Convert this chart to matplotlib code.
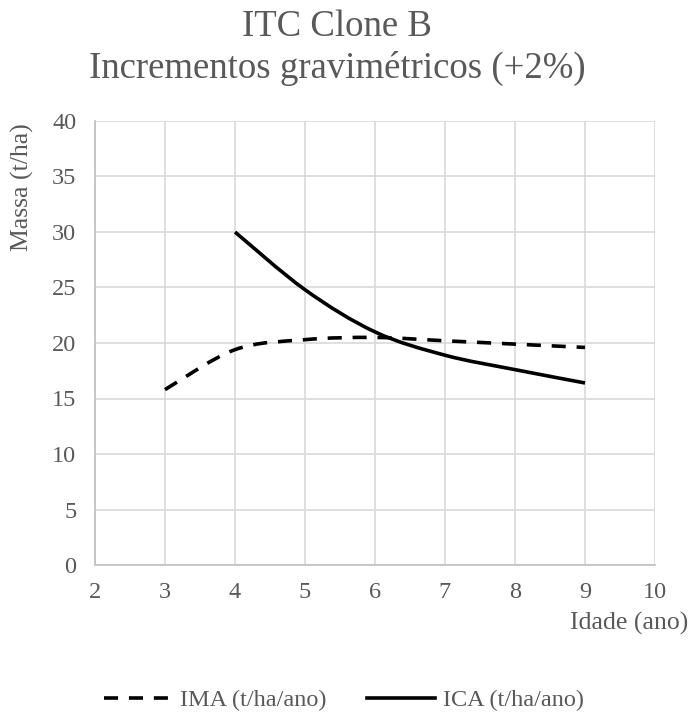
"""ITC Clone B - incrementos gravimetricos (+2%)."""

import matplotlib
matplotlib.use('Agg')
import matplotlib.pyplot as plt
from matplotlib.path import Path
from matplotlib.patches import PathPatch
from matplotlib.lines import Line2D

plt.rcParams['font.family'] = ['Liberation Serif', 'DejaVu Serif']

# data
ima_idade = [3, 4, 5, 6, 7, 8, 9]
ima_valores = [15.8, 19.4, 20.3, 20.5, 20.2, 19.9, 19.6]
ica_idade = [4, 5, 6, 7, 8, 9]
ica_valores = [30.0, 24.8, 21.0, 18.9, 17.6, 16.4]

x_ticks = [2, 3, 4, 5, 6, 7, 8, 9, 10]
y_ticks = [0, 5, 10, 15, 20, 25, 30, 35, 40]

TEXT = '#595959'
GRID = '#d9d9d9'
AXIS = '#bfbfbf'
W, H = 691, 715


def smooth_path(xs, ys):
    """Excel-like smoothed line: cubic bezier between the points."""
    pts = list(zip(xs, ys))
    verts = [pts[0]]
    codes = [Path.MOVETO]
    n = len(pts)
    for i in range(n - 1):
        p0 = pts[i - 1] if i > 0 else pts[i]
        p1 = pts[i]
        p2 = pts[i + 1]
        p3 = pts[i + 2] if i + 2 < n else pts[i + 1]
        c1 = (p1[0] + (p2[0] - p0[0]) / 6, p1[1] + (p2[1] - p0[1]) / 6)
        c2 = (p2[0] - (p3[0] - p1[0]) / 6, p2[1] - (p3[1] - p1[1]) / 6)
        verts += [c1, c2, p2]
        codes += [Path.CURVE4] * 3
    return Path(verts, codes)


fig = plt.figure(figsize=(W / 100, H / 100), dpi=100)
ax = fig.add_axes([95 / W, 1 - 565 / H, 560 / W, 444 / H])

lw = 2.6
dash = (0, (3.9, 3.0))
ax.add_patch(PathPatch(smooth_path(ima_idade, ima_valores), facecolor='none',
                       edgecolor='black', lw=lw, linestyle=dash, capstyle='butt'))
ax.add_patch(PathPatch(smooth_path(ica_idade, ica_valores), facecolor='none',
                       edgecolor='black', lw=lw, capstyle='butt'))

ax.set_xlim(2, 10)
ax.set_ylim(0, 40)
ax.set_xticks(x_ticks)
ax.set_yticks(y_ticks)
ax.grid(True, color=GRID, lw=1.2)
ax.set_axisbelow(True)
for side in ['top', 'right']:
    ax.spines[side].set_visible(False)
for side in ['left', 'bottom']:
    ax.spines[side].set_color(AXIS)
    ax.spines[side].set_linewidth(1.2)
ax.tick_params(length=0, labelsize=17.5, labelcolor=TEXT)
ax.tick_params(axis='x', pad=12)
ax.tick_params(axis='y', pad=13.5)

fig.text(337 / W, 1 - 36 / H, 'ITC Clone B', ha='center', va='baseline',
         fontsize=26.5, color=TEXT)
fig.text(337 / W, 1 - 78 / H, 'Incrementos gravimétricos (+2%)', ha='center',
         va='baseline', fontsize=26.5, color=TEXT)
fig.text(22 / W, 1 - 123 / H, 'Massa (t/ha)', rotation=90, ha='center', va='top',
         fontsize=18.5, color=TEXT)
fig.text(688 / W, 1 - 630 / H, 'Idade (ano)', ha='right', va='baseline',
         fontsize=18.5, color=TEXT)

handles = [Line2D([], [], color='black', lw=lw, linestyle=dash),
           Line2D([], [], color='black', lw=lw)]
fig.legend(handles, ['IMA (t/ha/ano)', 'ICA (t/ha/ano)'], loc='center left',
           bbox_to_anchor=(104 / W, 1 - 700 / H), ncol=2, frameon=False,
           fontsize=17.5, labelcolor=TEXT, handlelength=2.8, handletextpad=0.33,
           columnspacing=1.65, borderpad=0, borderaxespad=0)

fig.savefig('out.png', dpi=100)
